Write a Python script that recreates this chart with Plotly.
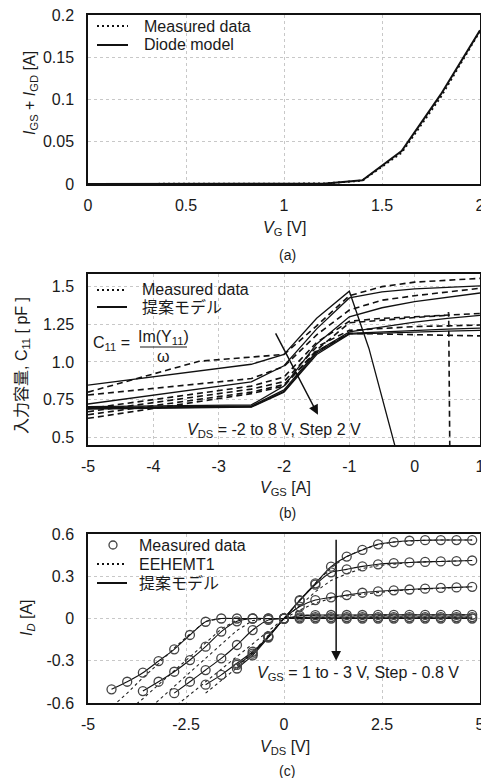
import plotly.graph_objects as go

W, H = 489, 778
OFF = 8  # page body margin offset of the figure in the photographed window
FONT = "Liberation Sans, Arial, Noto Sans CJK JP, sans-serif"
TXT = "#1a1a1a"

# ---------------- (a) gate diode current ----------------
vg = [0.0, 0.2, 0.4, 0.6, 0.8, 1.0, 1.2, 1.4, 1.6, 1.8, 2.0]
ig_measured = [0, 0, 0, 0, 0, 0, 0.0005, 0.004, 0.037, 0.103, 0.181]
ig_diode = [0, 0, 0, 0, 0, 0, 0.0003, 0.0045, 0.039, 0.106, 0.182]
a_xticks = [0, 0.5, 1, 1.5, 2]
a_xlabels = ["0", "0.5", "1", "1.5", "2"]
a_yticks = [0, 0.05, 0.1, 0.15, 0.2]
a_ylabels = ["0", "0.05", "0.1", "0.15", "0.2"]

# ---------------- (b) input capacitance C11 ----------------
vgs_grid = [-5, -2.5, -2, -1.5, -1, -0.5, 0, 0.5, 1]
vgs_model_1 = [-5, -2.5, -2, -1.5, -1, -0.7, -0.3]
c11_model_1 = [0.847, 0.985, 1.05, 1.29, 1.47, 1.09, 0.44]
c11_model_2 = [0.721, 0.868, 0.975, 1.22, 1.425, 1.465, 1.485, 1.497, 1.505]
c11_model_3 = [0.704, 0.715, 0.84, 1.12, 1.30, 1.36, 1.40, 1.43, 1.458]
c11_model_4 = [0.697, 0.708, 0.815, 1.07, 1.20, 1.235, 1.265, 1.29, 1.31]
c11_model_5 = [0.692, 0.703, 0.805, 1.06, 1.19, 1.20, 1.21, 1.218, 1.225]
c11_model_6 = [0.688, 0.70, 0.80, 1.05, 1.185, 1.19, 1.198, 1.205, 1.21]

vgs_meas_1 = [-5, -3.3, -2, -1.5, -1, -0.5, 0, 0.5, 1]
c11_meas_1 = [0.80, 1.005, 1.05, 1.24, 1.44, 1.50, 1.53, 1.545, 1.555]
c11_meas_2 = [0.781, 0.89, 0.97, 1.18, 1.345, 1.41, 1.44, 1.465, 1.489]
c11_meas_3 = [0.69, 0.84, 0.90, 1.13, 1.27, 1.29, 1.30, 1.31, 1.322]
c11_meas_4 = [0.67, 0.82, 0.87, 1.10, 1.21, 1.225, 1.235, 1.24, 1.245]
c11_meas_5 = [0.65, 0.80, 0.85, 1.07, 1.19, 1.185, 1.18, 1.178, 1.173]
vgs_meas_6 = [-5, -2.5, -2, -1.5, -1, -0.5, 0, 0.5, 0.52, 0.54]
c11_meas_6 = [0.626, 0.79, 0.84, 1.08, 1.26, 1.28, 1.295, 1.31, 1.33, 0.30]
b_xticks = [-5, -4, -3, -2, -1, 0, 1]
b_xlabels = ["-5", "-4", "-3", "-2", "-1", "0", "1"]
b_yticks = [0.5, 0.75, 1.0, 1.25, 1.5]
b_ylabels = ["0.5", "0.75", "1.0", "1.25", "1.5"]

# ---------------- (c) ID - VDS ----------------
vds_pos = [0, 0.4, 0.8, 1.2, 1.6, 2.0, 2.4, 2.8, 3.2, 3.6, 4.0, 4.4, 4.8]
vgs_labels = ["1", "0.2", "-0.6", "-1.4", "-2.2", "-3.0"]
vds_neg_vgs1 = [-1.2, -0.8, -0.4]
id_neg_vgs1 = [-0.33, -0.25, -0.125]
id_pos_vgs1 = [0, 0.13, 0.25, 0.368, 0.44, 0.487, 0.527, 0.543, 0.552, 0.556, 0.557, 0.557, 0.557]
vds_neg_vgs02 = [-1.2, -0.8, -0.4]
id_neg_vgs02 = [-0.355, -0.262, -0.135]
id_pos_vgs02 = [0, 0.125, 0.24, 0.328, 0.349, 0.37, 0.385, 0.393, 0.398, 0.402, 0.405, 0.408, 0.412]
vds_neg_vgsm06 = [-2.0, -1.6, -1.2, -0.8, -0.4]
id_neg_vgsm06 = [-0.47, -0.40, -0.318, -0.236, -0.13]
id_pos_vgsm06 = [0, 0.085, 0.131, 0.15, 0.166, 0.183, 0.193, 0.2, 0.206, 0.212, 0.217, 0.221, 0.225]
vds_neg_vgsm14 = [-2.8, -2.4, -2.0, -1.6, -1.2, -0.8, -0.4]
id_neg_vgsm14 = [-0.53, -0.449, -0.366, -0.283, -0.188, -0.082, -0.01]
id_pos_vgsm14 = [0, 0.02, 0.024, 0.025, 0.025, 0.025, 0.026, 0.026, 0.026, 0.026, 0.026, 0.026, 0.026]
vds_neg_vgsm22 = [-3.6, -3.2, -2.8, -2.4, -2.0, -1.6, -1.2, -0.8, -0.4]
id_neg_vgsm22 = [-0.515, -0.449, -0.378, -0.295, -0.20, -0.093, -0.02, 0, 0]
id_pos_vgsm22 = [0, 0.008, 0.01, 0.01, 0.01, 0.01, 0.01, 0.01, 0.01, 0.01, 0.01, 0.01, 0.01]
vds_neg_vgsm30 = [-4.4, -4.0, -3.6, -3.2, -2.8, -2.4, -2.0, -1.6, -1.2, -0.8, -0.4]
id_neg_vgsm30 = [-0.503, -0.449, -0.385, -0.302, -0.219, -0.117, -0.023, 0, 0, 0, 0]
id_pos_vgsm30 = [0, 0, 0, 0, 0, 0, 0, 0, 0, 0, 0, 0, 0]

# EEHEMT1 model curves
ee_vds_vgs1 = [-1.2, -0.8, -0.4, 0, 0.4, 0.8, 1.2, 1.6, 2.0, 2.4, 2.8, 3.2, 3.6, 4.0, 4.4, 4.8]
ee_id_vgs1 = [-0.34, -0.24, -0.12, 0, 0.13, 0.25, 0.36, 0.44, 0.49, 0.525, 0.543, 0.552, 0.556, 0.557, 0.557, 0.557]
ee_vds_vgs02 = [-2.0, -1.6, -1.2, -0.8, -0.4, 0, 0.4, 0.8, 1.2, 1.6, 2.0, 2.4, 2.8, 3.2, 3.6, 4.0, 4.4, 4.8]
ee_id_vgs02 = [-0.53, -0.44, -0.35, -0.25, -0.13, 0, 0.09, 0.19, 0.27, 0.318, 0.355, 0.375, 0.388, 0.397, 0.402, 0.406, 0.408, 0.412]
ee_vds_vgsm06 = [-3.2, -2.8, -2.4, -2.0, -1.6, -1.2, -0.8, -0.4, 0, 0.4, 0.8, 1.2, 1.6, 2.0, 2.4, 2.8, 3.2, 3.6, 4.0, 4.4, 4.8]
ee_id_vgsm06 = [-0.72, -0.63, -0.54, -0.45, -0.36, -0.27, -0.175, -0.085, 0, 0.06, 0.11, 0.142, 0.16, 0.172, 0.186, 0.196, 0.204, 0.21, 0.215, 0.22, 0.225]
ee_vds_vgsm14 = [-3.6, -3.2, -2.8, -2.4, -2.0, -1.6, -1.2, -0.8, -0.4, 0, 0.4, 4.8]
ee_id_vgsm14 = [-0.68, -0.58, -0.48, -0.38, -0.28, -0.18, -0.085, -0.015, 0, 0, 0.022, 0.026]
ee_vds_vgsm22 = [-4.0, -3.6, -3.2, -2.8, -2.4, -2.0, -1.6, -1.2, -0.8, 0, 0.4, 4.8]
ee_id_vgsm22 = [-0.66, -0.57, -0.47, -0.37, -0.27, -0.17, -0.075, -0.01, 0, 0, 0.009, 0.01]
ee_vds_vgsm30 = [-4.8, -4.4, -4.0, -3.6, -3.2, -2.8, -2.4, -2.0, -1.6, 4.8]
ee_id_vgsm30 = [-0.74, -0.63, -0.53, -0.42, -0.32, -0.21, -0.11, -0.02, 0, 0]
c_xticks = [-5, -2.5, 0, 2.5, 5]
c_xlabels = ["-5", "-2.5", "0", "2.5", "5"]
c_yticks = [-0.6, -0.3, 0, 0.3, 0.6]
c_ylabels = ["-0.6", "-0.3", "0", "0.3", "0.6"]

fig = go.Figure()

# ---- (a) traces ----
fig.add_trace(go.Scatter(x=vg, y=ig_measured, mode="lines", name="Measured data", showlegend=False,
                         line=dict(color="#111", width=2, dash="2px,3px"), xaxis="x", yaxis="y"))
fig.add_trace(go.Scatter(x=vg, y=ig_diode, mode="lines", name="Diode model", showlegend=False,
                         line=dict(color="#111", width=2), xaxis="x", yaxis="y"))

# ---- (b) traces ----
model_b = [(vgs_model_1, c11_model_1), (vgs_grid, c11_model_2), (vgs_grid, c11_model_3),
           (vgs_grid, c11_model_4), (vgs_grid, c11_model_5), (vgs_grid, c11_model_6)]
meas_b = [(vgs_meas_1, c11_meas_1), (vgs_grid, c11_meas_2), (vgs_grid, c11_meas_3),
          (vgs_grid, c11_meas_4), (vgs_grid, c11_meas_5), (vgs_meas_6, c11_meas_6)]
for xs, ys in meas_b:
    fig.add_trace(go.Scatter(x=xs, y=ys, mode="lines", name="Measured data", showlegend=False,
                             line=dict(color="#111", width=1.6, dash="6px,4px"),
                             xaxis="x2", yaxis="y2"))
for xs, ys in model_b:
    fig.add_trace(go.Scatter(x=xs, y=ys, mode="lines", name="提案モデル", showlegend=False,
                             line=dict(color="#111", width=1.3), xaxis="x2", yaxis="y2"))

# ---- (c) traces ----
curves_c = [(vds_neg_vgs1, id_neg_vgs1, id_pos_vgs1),
            (vds_neg_vgs02, id_neg_vgs02, id_pos_vgs02),
            (vds_neg_vgsm06, id_neg_vgsm06, id_pos_vgsm06),
            (vds_neg_vgsm14, id_neg_vgsm14, id_pos_vgsm14),
            (vds_neg_vgsm22, id_neg_vgsm22, id_pos_vgsm22),
            (vds_neg_vgsm30, id_neg_vgsm30, id_pos_vgsm30)]
ee_c = [(ee_vds_vgs1, ee_id_vgs1), (ee_vds_vgs02, ee_id_vgs02), (ee_vds_vgsm06, ee_id_vgsm06),
        (ee_vds_vgsm14, ee_id_vgsm14), (ee_vds_vgsm22, ee_id_vgsm22), (ee_vds_vgsm30, ee_id_vgsm30)]
for xs, ys in ee_c:
    fig.add_trace(go.Scatter(x=xs, y=ys, mode="lines", name="EEHEMT1", showlegend=False,
                             line=dict(color="#222", width=1.1, dash="3px,3px"), xaxis="x3", yaxis="y3"))
for xn, yn, yp in curves_c:
    fig.add_trace(go.Scatter(x=xn + vds_pos, y=yn + yp, mode="lines", name="提案モデル", showlegend=False,
                             line=dict(color="#111", width=1.1, shape="spline", smoothing=0.6),
                             xaxis="x3", yaxis="y3"))
for xn, yn, yp in curves_c:
    fig.add_trace(go.Scatter(x=xn + vds_pos, y=yn + yp, mode="markers", name="Measured data", showlegend=False,
                             marker=dict(symbol="circle-open", size=9, color="#444",
                                         line=dict(width=1.3, color="#444")),
                             xaxis="x3", yaxis="y3"))


def px(v):
    return (v - OFF) / W


def py(v):
    return 1 - (v - OFF) / H


XDOM = [px(88), px(480)]


def axis(dom, rng, tv, tt, anchor, standoff):
    return dict(domain=dom, range=rng, tickvals=tv, ticktext=tt, anchor=anchor, automargin=False,
                showline=True, mirror=True, linecolor="#111", linewidth=1.5,
                showgrid=True, gridcolor="#c8c8c8", griddash="dot", gridwidth=1,
                zeroline=False, ticks="", ticklabelstandoff=standoff, ticklabeloverflow="allow",
                tickfont=dict(family=FONT, size=16, color=TXT), fixedrange=True)


layout = dict(
    width=W, height=H, margin=dict(l=0, r=0, t=0, b=0, autoexpand=False),
    paper_bgcolor="white", plot_bgcolor="white", showlegend=False,
    font=dict(family=FONT, size=16, color=TXT),
    xaxis=axis(XDOM, [0, 2], a_xticks, a_xlabels, "y", 6),
    yaxis=axis([py(184), py(15)], [0, 0.2], a_yticks, a_ylabels, "x", 9),
    xaxis2=axis(XDOM, [-5, 1], b_xticks, b_xlabels, "y2", 6),
    yaxis2=axis([py(445), py(274)], [0.449, 1.584], b_yticks, b_ylabels, "x2", 9),
    xaxis3=axis(XDOM, [-5, 5], c_xticks, c_xlabels, "y3", 6),
    yaxis3=axis([py(703), py(534)], [-0.6, 0.6], c_yticks, c_ylabels, "x3", 9),
)

ann = []
shapes = []


def note(x, y, text, size=16, angle=0, xanchor="center"):
    ann.append(dict(x=px(x), y=py(y), xref="paper", yref="paper", text=text, showarrow=False,
                    font=dict(family=FONT, size=size, color=TXT), textangle=angle,
                    xanchor=xanchor, yanchor="middle"))


def legend_line(x0, x1, y, dash):
    shapes.append(dict(type="line", xref="paper", yref="paper", x0=px(x0), x1=px(x1), y0=py(y), y1=py(y),
                       line=dict(color="#111", width=2, dash=dash)))


# legends (drawn as keys + text)
legend_line(97, 128, 26, "2px,3px")
note(142, 26, "Measured data", xanchor="left")
legend_line(97, 128, 45, "solid")
note(142, 45, "Diode model", xanchor="left")

legend_line(97, 127, 290, "2px,3px")
note(140, 290, "Measured data", xanchor="left")
legend_line(97, 127, 307, "solid")
note(140, 307, "提案モデル", xanchor="left")

shapes.append(dict(type="circle", xref="paper", yref="paper", x0=px(109), x1=px(117), y0=py(549), y1=py(541),
                   line=dict(color="#444", width=1.3)))
note(137, 545, "Measured data", xanchor="left")
legend_line(97, 127, 564, "2px,3px")
note(137, 564, "EEHEMT1", xanchor="left")
legend_line(97, 127, 583, "solid")
note(137, 583, "提案モデル", xanchor="left")

# axis titles and captions
note(284, 229, "<i>V</i><sub>G</sub> [V]")
note(30, 93, "<i>I</i><sub>GS</sub> + <i>I</i><sub>GD</sub> [A]", angle=-90)
note(287, 255, "(a)", size=14)
note(285, 488, "<i>V</i><sub>GS</sub> [A]")
note(22, 366, "入力容量, C<sub>11</sub> [ pF ]", angle=-90)
note(287, 513, "(b)", size=14)
note(285, 747, "<i>V</i><sub>DS</sub> [V]")
note(27, 618, "<i>I<sub>D</sub></i> [A]", angle=-90)
note(287, 771, "(c)", size=14)

# C11 formula
note(91, 343, "C<sub>11</sub> =", xanchor="left")
note(163, 337, "Im(Y<sub>11</sub>)")
note(163, 356, "ω")
shapes.append(dict(type="line", xref="paper", yref="paper", x0=px(140), x1=px(187),
                   y0=py(347), y1=py(347), line=dict(color=TXT, width=1.2)))

# in-plot labels
ann.append(dict(x=-2.16, y=0.545, xref="x2", yref="y2", showarrow=False,
                text="<i>V</i><sub>DS</sub> = -2 to 8 V, Step 2 V",
                font=dict(family=FONT, size=16, color=TXT)))
ann.append(dict(x=1.9, y=-0.389, xref="x3", yref="y3", showarrow=False,
                text="<i>V</i><sub>GS</sub> = 1 to - 3 V, Step - 0.8 V",
                font=dict(family=FONT, size=16, color=TXT)))
# arrows
ann.append(dict(x=-1.48, y=0.65, xref="x2", yref="y2", ax=-2.14, ay=1.20, axref="x2", ayref="y2",
                text="", showarrow=True, arrowhead=2, arrowsize=1.3, arrowwidth=1.5, arrowcolor="#111"))
ann.append(dict(x=1.33, y=-0.30, xref="x3", yref="y3", ax=1.33, ay=0.57, axref="x3", ayref="y3",
                text="", showarrow=True, arrowhead=2, arrowsize=1.3, arrowwidth=1.5, arrowcolor="#111"))

layout["annotations"] = ann
layout["shapes"] = shapes

fig.update_layout(**layout)
fig.write_html("out.html")
